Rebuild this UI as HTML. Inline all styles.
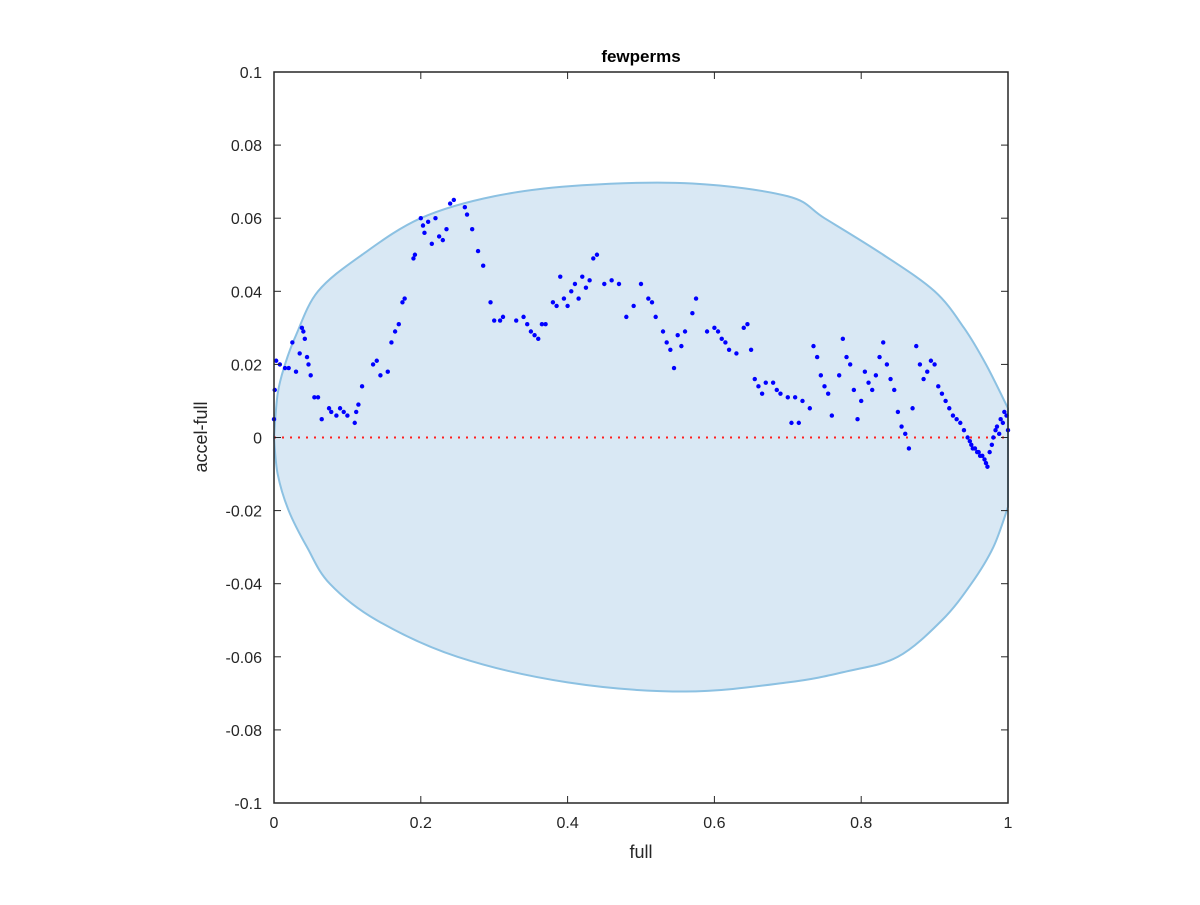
<!DOCTYPE html>
<html><head><meta charset="utf-8"><style>
body{margin:0;background:#fff;width:1200px;height:900px;overflow:hidden}
svg text{font-family:"Liberation Sans",sans-serif;fill:#262626}
</style></head><body>
<svg id="chart" width="1200" height="900" xmlns="http://www.w3.org/2000/svg"></svg>
<script>
const xTicks=[0,0.2,0.4,0.6,0.8,1];
const xTickLabels=["0","0.2","0.4","0.6","0.8","1"];
const yTicks=[0.1,0.08,0.06,0.04,0.02,0,-0.02,-0.04,-0.06,-0.08,-0.1];
const yTickLabels=["0.1","0.08","0.06","0.04","0.02","0","-0.02","-0.04","-0.06","-0.08","-0.1"];
const upperX=[0,0.005,0.015,0.03,0.06,0.12,0.2,0.3,0.42,0.57,0.7,0.75,0.83,0.9,0.94,0.97,1.0];
const upperY=[0,0.012,0.02,0.028,0.04,0.05,0.06,0.066,0.069,0.0695,0.066,0.06,0.05,0.04,0.03,0.02,0.008];
const lowerX=[0,0.005,0.02,0.045,0.076,0.14,0.25,0.4,0.56,0.7,0.78,0.85,0.91,0.95,0.98,1.0];
const lowerY=[0,-0.01,-0.02,-0.03,-0.04,-0.05,-0.06,-0.067,-0.0695,-0.067,-0.064,-0.06,-0.05,-0.04,-0.03,-0.019];
const ptX=[0,0.001,0.003,0.008,0.015,0.02,0.025,0.03,0.035,0.038,0.04,0.042,0.045,0.047,0.05,0.055,0.06,0.065,0.075,0.078,0.085,0.09,0.095,0.1,0.11,0.112,0.115,0.12,0.135,0.14,0.145,0.155,0.16,0.165,0.17,0.175,0.178,0.19,0.192,0.2,0.203,0.205,0.21,0.215,0.22,0.225,0.23,0.235,0.24,0.245,0.26,0.263,0.27,0.278,0.285,0.295,0.3,0.308,0.312,0.33,0.34,0.345,0.35,0.355,0.36,0.365,0.37,0.38,0.385,0.39,0.395,0.4,0.405,0.41,0.415,0.42,0.425,0.43,0.435,0.44,0.45,0.46,0.47,0.48,0.49,0.5,0.51,0.515,0.52,0.53,0.535,0.54,0.545,0.55,0.555,0.56,0.57,0.575,0.59,0.6,0.605,0.61,0.615,0.62,0.63,0.64,0.645,0.65,0.655,0.66,0.665,0.67,0.68,0.685,0.69,0.7,0.705,0.71,0.715,0.72,0.73,0.735,0.74,0.745,0.75,0.755,0.76,0.77,0.775,0.78,0.785,0.79,0.795,0.8,0.805,0.81,0.815,0.82,0.825,0.83,0.835,0.84,0.845,0.85,0.855,0.86,0.865,0.87,0.875,0.88,0.885,0.89,0.895,0.9,0.905,0.91,0.915,0.92,0.925,0.93,0.935,0.94,0.945,0.948,0.95,0.952,0.955,0.958,0.96,0.962,0.965,0.968,0.97,0.972,0.975,0.978,0.98,0.983,0.985,0.988,0.99,0.993,0.995,0.998,1.0];
const ptY=[0.005,0.013,0.021,0.02,0.019,0.019,0.026,0.018,0.023,0.030,0.029,0.027,0.022,0.02,0.017,0.011,0.011,0.005,0.008,0.007,0.006,0.008,0.007,0.006,0.004,0.007,0.009,0.014,0.020,0.021,0.017,0.018,0.026,0.029,0.031,0.037,0.038,0.049,0.05,0.06,0.058,0.056,0.059,0.053,0.06,0.055,0.054,0.057,0.064,0.065,0.063,0.061,0.057,0.051,0.047,0.037,0.032,0.032,0.033,0.032,0.033,0.031,0.029,0.028,0.027,0.031,0.031,0.037,0.036,0.044,0.038,0.036,0.04,0.042,0.038,0.044,0.041,0.043,0.049,0.05,0.042,0.043,0.042,0.033,0.036,0.042,0.038,0.037,0.033,0.029,0.026,0.024,0.019,0.028,0.025,0.029,0.034,0.038,0.029,0.030,0.029,0.027,0.026,0.024,0.023,0.030,0.031,0.024,0.016,0.014,0.012,0.015,0.015,0.013,0.012,0.011,0.004,0.011,0.004,0.010,0.008,0.025,0.022,0.017,0.014,0.012,0.006,0.017,0.027,0.022,0.020,0.013,0.005,0.010,0.018,0.015,0.013,0.017,0.022,0.026,0.020,0.016,0.013,0.007,0.003,0.001,-0.003,0.008,0.025,0.020,0.016,0.018,0.021,0.020,0.014,0.012,0.010,0.008,0.006,0.005,0.004,0.002,0.000,-0.001,-0.002,-0.003,-0.003,-0.004,-0.004,-0.005,-0.005,-0.006,-0.007,-0.008,-0.004,-0.002,0.000,0.002,0.003,0.001,0.005,0.004,0.007,0.006,0.002];
const X0=274,X1=1008,YT=72,YB=803;
const sx=v=>X0+v*(X1-X0);
const sy=v=>YT+(0.1-v)/0.2*(YB-YT);
const svg=document.getElementById('chart');
const NS="http://www.w3.org/2000/svg";
function mk(t,a,p){const e=document.createElementNS(NS,t);for(const k in a)e.setAttribute(k,a[k]);(p||svg).appendChild(e);return e;}
function smooth(pts){
 let s='';
 for(let i=0;i<pts.length-1;i++){
  const p0=pts[Math.max(i-1,0)],p1=pts[i],p2=pts[i+1],p3=pts[Math.min(i+2,pts.length-1)];
  const c1=[p1[0]+(p2[0]-p0[0])/6,p1[1]+(p2[1]-p0[1])/6];
  const c2=[p2[0]-(p3[0]-p1[0])/6,p2[1]-(p3[1]-p1[1])/6];
  s+=' C'+c1[0]+','+c1[1]+' '+c2[0]+','+c2[1]+' '+p2[0]+','+p2[1];
 }
 return s;
}
const bg=mk('rect',{x:X0,y:YT,width:X1-X0,height:YB-YT,fill:'#fff'});


const up=upperX.map((v,i)=>[sx(v),sy(upperY[i])]);
const lo=lowerX.map((v,i)=>[sx(v),sy(lowerY[i])]).reverse();
let d='M'+up[0][0]+','+up[0][1]+smooth(up)+' L'+lo[0][0]+','+lo[0][1]+smooth(lo)+'Z';
const reg=mk('path',{d:d,fill:'#d9e8f4',stroke:'#8cc1e2','stroke-width':2,'stroke-linejoin':'round'});


const zl=mk('line',{x1:X0,x2:X1,y1:sy(0),y2:sy(0),stroke:'#ff2020','stroke-width':2,'stroke-dasharray':'2,6'});


for(let i=0;i<ptX.length;i++){
 const c=mk('circle',{cx:sx(ptX[i]),cy:sy(ptY[i]),r:2.2,fill:'#0000ff'});
 
 
}
const box=mk('rect',{x:X0,y:YT,width:X1-X0,height:YB-YT,fill:'none',stroke:'#262626','stroke-width':1.5});


xTicks.forEach((v,i)=>{
 const x=sx(v);
 mk('line',{x1:x,x2:x,y1:YB,y2:YB-7,stroke:'#262626'});
 mk('line',{x1:x,x2:x,y1:YT,y2:YT+7,stroke:'#262626'});
 const t=mk('text',{x:x,y:YB+25,'text-anchor':'middle','font-size':16});
 t.textContent=xTickLabels[i];
 
 
});
yTicks.forEach((v,i)=>{
 const y=sy(v);
 mk('line',{x1:X0,x2:X0+7,y1:y,y2:y,stroke:'#262626'});
 mk('line',{x1:X1,x2:X1-7,y1:y,y2:y,stroke:'#262626'});
 const t=mk('text',{x:X0-12,y:y+6,'text-anchor':'end','font-size':16});
 t.textContent=yTickLabels[i];
 
 
});
const ti=mk('text',{x:641,y:62,'text-anchor':'middle','font-size':17,'font-weight':'bold'});
ti.textContent='fewperms';ti.style.fill='#000';


const xl=mk('text',{x:641,y:858,'text-anchor':'middle','font-size':18});
xl.textContent='full';


const yl=mk('text',{x:0,y:0,'text-anchor':'middle','font-size':18,transform:'translate(207,437) rotate(-90)'});
yl.textContent='accel-full';


</script>
</body></html>
